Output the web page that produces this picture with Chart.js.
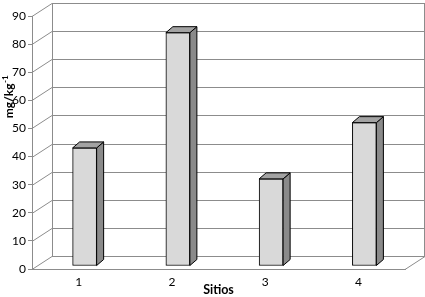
<!DOCTYPE html>
<html>
<head>
<meta charset="utf-8">
<script src="https://cdn.jsdelivr.net/npm/chart.js@4"></script>
<style>
  html, body { margin: 0; padding: 0; background: #fff; }
  #wrap { width: 425px; height: 297px; }
</style>
</head>
<body>
<div id="wrap"><canvas id="chart"></canvas></div>
<script>
  const sitios = ["1", "2", "3", "4"];
  const valores = [42, 83, 31, 51];
  const yTicks = [0, 10, 20, 30, 40, 50, 60, 70, 80, 90];

  const FONT = "Lato, 'Liberation Sans', sans-serif";
  const GRID = "#8c8c8c";
  // 3D offsets: back wall, bar plane, bar depth
  const WALL = { dx: 20, dy: -13 };
  const BAR = { dx: 6, dy: -3 };
  const SIDE = { dx: 7, dy: -6 };

  const depth = {
    id: "depth",
    beforeDatasetsDraw(chart) {
      const { ctx, chartArea: a, scales: { y } } = chart;
      ctx.save();
      ctx.strokeStyle = GRID;
      ctx.lineWidth = 1;
      const top = y.getPixelForValue(90), bot = y.getPixelForValue(0);
      ctx.beginPath();
      yTicks.forEach(v => {
        const py = Math.round(y.getPixelForValue(v)) + 0.5;
        // diagonal from the front axis to the back wall
        ctx.moveTo(a.left, py);
        ctx.lineTo(a.left + WALL.dx, py + WALL.dy);
        // back wall gridline
        ctx.lineTo(a.right + WALL.dx, py + WALL.dy);
      });
      // back wall edges
      ctx.moveTo(a.left + WALL.dx + 0.5, Math.round(top) + WALL.dy + 0.5);
      ctx.lineTo(a.left + WALL.dx + 0.5, Math.round(bot) + WALL.dy + 0.5);
      ctx.moveTo(a.right + WALL.dx - 0.5, Math.round(top) + WALL.dy + 0.5);
      ctx.lineTo(a.right + WALL.dx - 0.5, Math.round(bot) + WALL.dy + 0.5);
      // floor right side
      ctx.moveTo(a.right, Math.round(bot) + 0.5);
      ctx.lineTo(a.right + WALL.dx, Math.round(bot) + WALL.dy + 0.5);
      ctx.stroke();
      ctx.restore();

      ctx.save();
      ctx.translate(BAR.dx, BAR.dy);
    },
    afterDatasetsDraw(chart) {
      const { ctx } = chart;
      const meta = chart.getDatasetMeta(0);
      ctx.strokeStyle = "#000";
      ctx.lineWidth = 1;
      ctx.lineJoin = "round";
      meta.data.forEach(bar => {
        const { x, y, base, width } = bar.getProps(["x", "y", "base", "width"], true);
        const l = x - width / 2, r = x + width / 2;
        // side face
        ctx.beginPath();
        ctx.moveTo(r, y);
        ctx.lineTo(r + SIDE.dx, y + SIDE.dy);
        ctx.lineTo(r + SIDE.dx, base + SIDE.dy);
        ctx.lineTo(r, base);
        ctx.closePath();
        ctx.fillStyle = "#8a8a8a";
        ctx.fill();
        ctx.stroke();
        // top face
        ctx.beginPath();
        ctx.moveTo(l, y);
        ctx.lineTo(l + SIDE.dx, y + SIDE.dy);
        ctx.lineTo(r + SIDE.dx, y + SIDE.dy);
        ctx.lineTo(r, y);
        ctx.closePath();
        ctx.fillStyle = "#a3a3a3";
        ctx.fill();
        ctx.stroke();
      });
      ctx.restore();

      // y axis title with superscript
      ctx.save();
      ctx.translate(13, 97);
      ctx.rotate(-Math.PI / 2);
      ctx.fillStyle = "#000";
      ctx.textBaseline = "alphabetic";
      const main = "mg/kg";
      ctx.font = "bold 12px " + FONT;
      const w1 = ctx.measureText(main).width;
      ctx.font = "bold 8px " + FONT;
      const w2 = ctx.measureText("-1").width;
      const x0 = -(w1 + w2) / 2;
      ctx.font = "bold 12px " + FONT;
      ctx.fillText(main, x0, 0);
      ctx.font = "bold 8px " + FONT;
      ctx.fillText("-1", x0 + w1 + 0.5, -5);
      ctx.restore();
    }
  };

  new Chart(document.getElementById("chart"), {
    type: "bar",
    data: {
      labels: sitios,
      datasets: [{
        data: valores,
        backgroundColor: "#d9d9d9",
        borderColor: "#000",
        borderWidth: 1,
        borderSkipped: false,
        barThickness: 24
      }]
    },
    options: {
      responsive: true,
      maintainAspectRatio: false,
      animation: false,
      layout: { padding: { top: 16, right: 20, left: 0, bottom: 0 } },
      plugins: { legend: { display: false }, tooltip: { enabled: false } },
      scales: {
        x: {
          grid: { display: false },
          border: { display: true, color: GRID, width: 1 },
          ticks: { color: "#000", font: { family: FONT, size: 12 }, padding: -2 },
          title: { display: true, text: "Sitios", color: "#000", font: { family: FONT, size: 12.5, weight: "bold" }, padding: { top: 0, bottom: 0 } },
          afterFit(s) { s.height = 28; }
        },
        y: {
          min: 0,
          max: 90,
          afterBuildTicks(s) { s.ticks = yTicks.map(v => ({ value: v })); },
          grid: { drawOnChartArea: false, drawTicks: true, tickLength: 4, color: GRID },
          border: { display: true, color: GRID, width: 1 },
          ticks: { color: "#000", font: { family: FONT, size: 12 }, padding: 2 },
          afterFit(s) { s.width = 32; }
        }
      }
    },
    plugins: [depth]
  });
</script>
</body>
</html>
